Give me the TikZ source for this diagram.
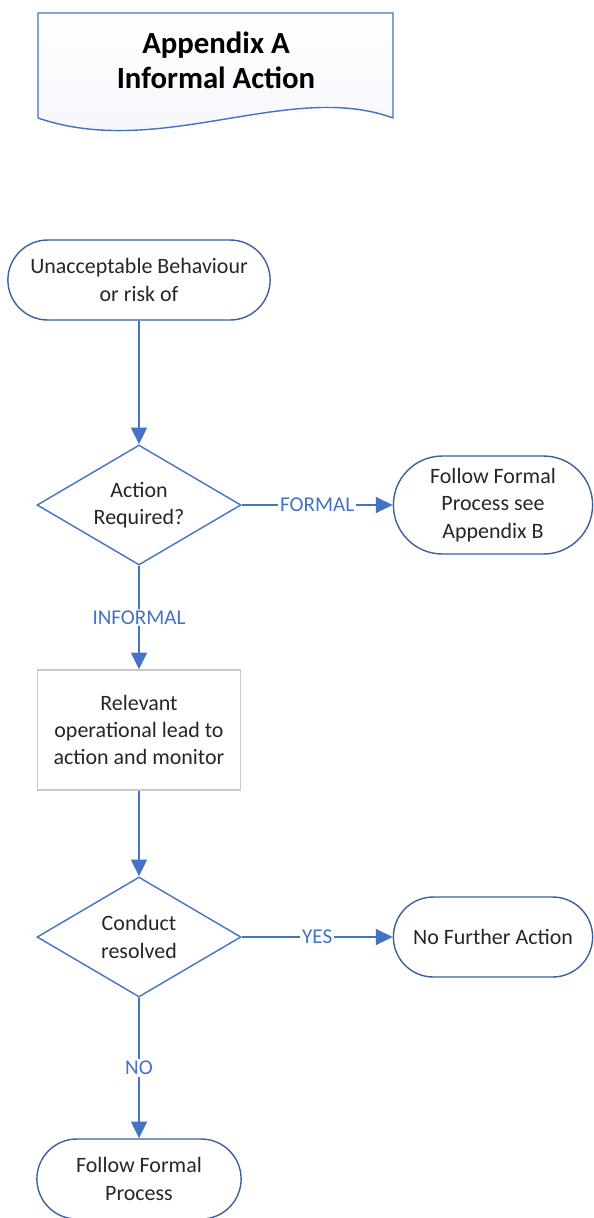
\documentclass[tikz,border=0pt]{standalone}
\usepackage{fontspec}
\setmainfont{Carlito}
\usepackage{xcolor}
\usepackage{tikz}
\usetikzlibrary{shapes.geometric, shapes.misc, arrows.meta}

\definecolor{lineblue}{HTML}{4472C4}
\definecolor{edgeblue}{HTML}{3E5F9E}
\definecolor{txtgray}{HTML}{262626}
\definecolor{boxgray}{HTML}{C9C9C9}

\begin{document}
\begin{tikzpicture}[x=0.02cm, y=-0.02cm,
    every node/.style={text=txtgray, align=center, font=\fontsize{12.5}{15.5}\selectfont},
    term/.style={draw=edgeblue, thick, rounded rectangle, minimum height=1.6cm},
    decision/.style={draw=lineblue, thick, diamond, aspect=1.7, inner sep=0pt, minimum width=4.08cm, minimum height=2.4cm},
    proc/.style={draw=boxgray, thick, rectangle, minimum width=4.06cm, minimum height=2.4cm},
    arr/.style={lineblue, line width=1.1pt, -{Triangle[length=9.5pt,width=9pt]}},
    lbl/.style={midway, fill=white, text=lineblue, inner sep=1pt, font=\fontsize{12}{14}\selectfont}]

    \useasboundingbox (0,0) rectangle (594,1218);
    \clip (0,0) rectangle (594,1218);

    % Titolo
    \draw[lineblue, thick, top color=white, bottom color=lineblue!7]
        (38,13) -- (393,13) -- (393,118)
        .. controls (290,80) and (160,160) .. (38,118) -- cycle;
    \node[text=black, font=\bfseries\fontsize{17.5}{20}\selectfont] (title) at (216,60) {Appendix A\\Informal Action};

    % Nodi
    \node[term, minimum width=5.48cm] (start) at (139,280) {Unacceptable Behaviour\\or risk of};
    \node[decision] (action) at (139,505) {Action\\Required?};
    \node[term, minimum width=4.22cm, minimum height=1.96cm] (formal) at (493,505) {Follow Formal\\Process see\\Appendix B};
    \node[proc] (lead) at (139,730) {Relevant\\operational lead to\\action and monitor};
    \node[decision] (resolved) at (139,937) {Conduct\\resolved};
    \node[term, minimum width=4.22cm] (nfa) at (493,937) {No Further Action};
    \node[term, minimum width=4.32cm] (follow) at (139,1179) {Follow Formal\\Process};

    % Frecce
    \draw[arr] (start) -- (action);
    \draw[arr] (action) -- node[lbl] {FORMAL} (formal);
    \draw[arr] (action) -- node[lbl] {INFORMAL} (lead);
    \draw[arr] (lead) -- (resolved);
    \draw[arr] (resolved) -- node[lbl] {YES} (nfa);
    \draw[arr] (resolved) -- node[lbl] {NO} (follow);
\end{tikzpicture}
\end{document}
